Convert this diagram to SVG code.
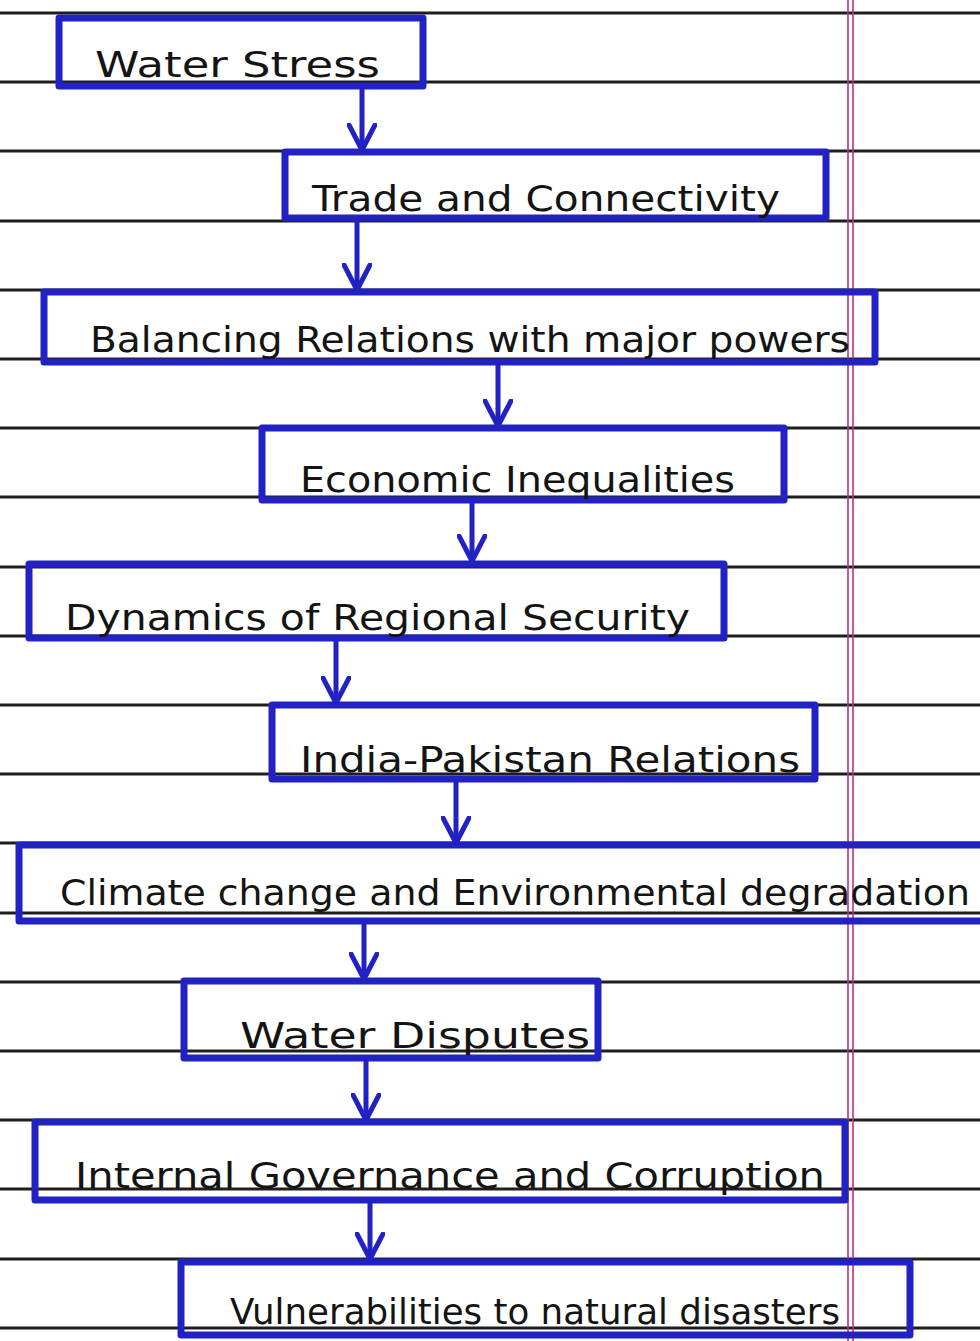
<svg xmlns="http://www.w3.org/2000/svg" width="980" height="1341" viewBox="0 0 980 1341">
<style>
.rule{stroke:#1e1e1e;stroke-width:3;fill:none}
.margin{stroke:#c2307e;stroke-width:1.6;fill:none}
.box{fill:none;stroke:#2222c4;stroke-width:7;stroke-linejoin:round}
.lbl{font-family:"DejaVu Sans","Liberation Sans",sans-serif;font-size:36px;fill:#141414}
.conn{stroke:#2222c4;stroke-width:5;fill:none;stroke-linecap:round}
</style>
<defs>
<marker id="v" viewBox="0 0 30 30" refX="27" refY="15" markerWidth="30" markerHeight="30" markerUnits="userSpaceOnUse" orient="auto">
<path d="M2,2 L27,15 L2,28" fill="none" stroke="#2222c4" stroke-width="5" stroke-linecap="round" stroke-linejoin="round"/>
</marker>
</defs>
<rect x="0" y="0" width="980" height="1341" fill="#ffffff"/>
<g id="paper">
<path class="rule" d="M0,13H980M0,82H980M0,151H980M0,221H980M0,290H980M0,359H980M0,428H980M0,497H980M0,567H980M0,636H980M0,705H980M0,774H980M0,843H980M0,913H980M0,982H980M0,1051H980M0,1120H980M0,1189H980M0,1259H980M0,1328H980"/>
<path class="margin" d="M848,0V1341M853,0V1341"/>
</g>
<g id="connectors">
<path class="conn" d="M362,88V150" marker-end="url(#v)"/>
<path class="conn" d="M357,221V290" marker-end="url(#v)"/>
<path class="conn" d="M498,366V426" marker-end="url(#v)"/>
<path class="conn" d="M472,503V561" marker-end="url(#v)"/>
<path class="conn" d="M336,641V703" marker-end="url(#v)"/>
<path class="conn" d="M456,781V843" marker-end="url(#v)"/>
<path class="conn" d="M364,923V979" marker-end="url(#v)"/>
<path class="conn" d="M366,1061V1120" marker-end="url(#v)"/>
<path class="conn" d="M370,1203V1259" marker-end="url(#v)"/>
</g>
<g id="n1"><rect class="box" x="59" y="18" width="364" height="68"/><text class="lbl" x="95" y="77" textLength="285" lengthAdjust="spacingAndGlyphs">Water Stress</text></g>
<g id="n2"><rect class="box" x="285" y="152" width="541" height="66"/><text class="lbl" x="312" y="211" textLength="468" lengthAdjust="spacingAndGlyphs">Trade and Connectivity</text></g>
<g id="n3"><rect class="box" x="44" y="292" width="831" height="70"/><text class="lbl" x="90" y="352" textLength="760" lengthAdjust="spacingAndGlyphs">Balancing Relations with major powers</text></g>
<g id="n4"><rect class="box" x="262" y="428" width="522" height="72"/><text class="lbl" x="300" y="492" textLength="435" lengthAdjust="spacingAndGlyphs">Economic Inequalities</text></g>
<g id="n5"><rect class="box" x="29" y="564" width="695" height="74"/><text class="lbl" x="65" y="630" textLength="625" lengthAdjust="spacingAndGlyphs">Dynamics of Regional Security</text></g>
<g id="n6"><rect class="box" x="272" y="705" width="543" height="74"/><text class="lbl" x="300" y="772" textLength="500" lengthAdjust="spacingAndGlyphs">India-Pakistan Relations</text></g>
<g id="n7"><rect class="box" x="19" y="845" width="975" height="76"/><text class="lbl" x="60" y="905" textLength="910" lengthAdjust="spacingAndGlyphs">Climate change and Environmental degradation</text></g>
<g id="n8"><rect class="box" x="184" y="981" width="414" height="77"/><text class="lbl" x="240" y="1048" textLength="350" lengthAdjust="spacingAndGlyphs">Water Disputes</text></g>
<g id="n9"><rect class="box" x="35" y="1122" width="810" height="78"/><text class="lbl" x="75" y="1188" textLength="750" lengthAdjust="spacingAndGlyphs">Internal Governance and Corruption</text></g>
<g id="n10"><rect class="box" x="181" y="1262" width="729" height="73"/><text class="lbl" x="230" y="1324" textLength="610" lengthAdjust="spacingAndGlyphs">Vulnerabilities to natural disasters</text></g>
</svg>
